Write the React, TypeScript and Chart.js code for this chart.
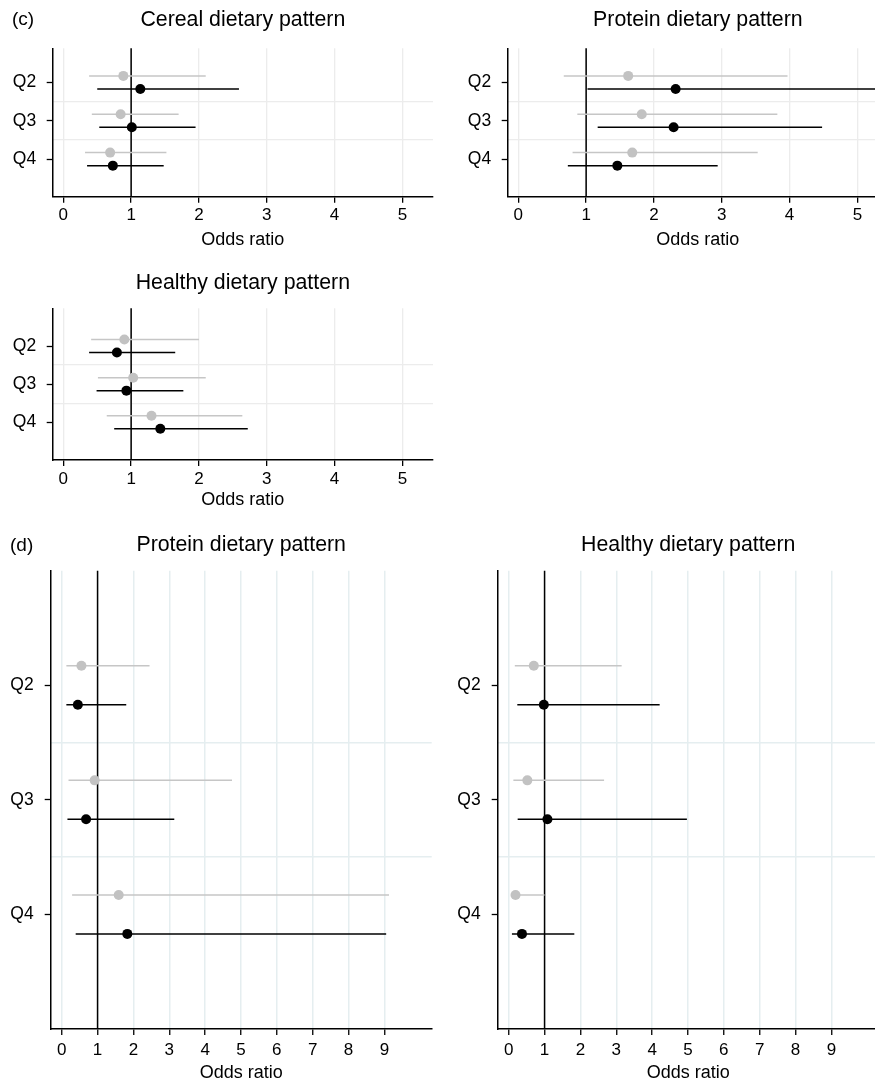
import React, { useEffect, useRef } from "react";
import { Chart, registerables } from "chart.js";

Chart.register(...registerables);
Chart.defaults.font.family = '"Liberation Sans", Arial, sans-serif';

// ---------- data ----------
const QUARTILES = ["Q2", "Q3", "Q4"];
const SEPARATORS = [1.5, 2.5];
const REF_OR = 1;
const X_TICKS_C = [0, 1, 2, 3, 4, 5];
const X_TICKS_D = [0, 1, 2, 3, 4, 5, 6, 7, 8, 9];

// (c) Cereal dietary pattern
const CEREAL_GRAY_OR = [0.885, 0.845, 0.69];
const CEREAL_GRAY_LO = [0.38, 0.42, 0.32];
const CEREAL_GRAY_HI = [2.1, 1.7, 1.52];
const CEREAL_BLACK_OR = [1.135, 1.01, 0.73];
const CEREAL_BLACK_LO = [0.5, 0.53, 0.35];
const CEREAL_BLACK_HI = [2.59, 1.95, 1.48];

// (c) Protein dietary pattern
const PROTEIN_C_GRAY_OR = [1.62, 1.82, 1.68];
const PROTEIN_C_GRAY_LO = [0.67, 0.87, 0.8];
const PROTEIN_C_GRAY_HI = [3.97, 3.82, 3.53];
const PROTEIN_C_BLACK_OR = [2.32, 2.29, 1.46];
const PROTEIN_C_BLACK_LO = [1.02, 1.17, 0.73];
const PROTEIN_C_BLACK_HI = [5.6, 4.48, 2.94];

// (c) Healthy dietary pattern
const HEALTHY_C_GRAY_OR = [0.9, 1.03, 1.3];
const HEALTHY_C_GRAY_LO = [0.41, 0.51, 0.64];
const HEALTHY_C_GRAY_HI = [2.0, 2.1, 2.64];
const HEALTHY_C_BLACK_OR = [0.79, 0.93, 1.43];
const HEALTHY_C_BLACK_LO = [0.38, 0.49, 0.75];
const HEALTHY_C_BLACK_HI = [1.65, 1.77, 2.72];

// (d) Protein dietary pattern
const PROTEIN_D_GRAY_OR = [0.55, 0.92, 1.59];
const PROTEIN_D_GRAY_LO = [0.13, 0.19, 0.29];
const PROTEIN_D_GRAY_HI = [2.45, 4.75, 9.13];
const PROTEIN_D_BLACK_OR = [0.45, 0.68, 1.83];
const PROTEIN_D_BLACK_LO = [0.13, 0.16, 0.39];
const PROTEIN_D_BLACK_HI = [1.8, 3.14, 9.05];

// (d) Healthy dietary pattern
const HEALTHY_D_GRAY_OR = [0.7, 0.52, 0.19];
const HEALTHY_D_GRAY_LO = [0.17, 0.13, 0.07];
const HEALTHY_D_GRAY_HI = [3.15, 2.66, 1.0];
const HEALTHY_D_BLACK_OR = [0.98, 1.08, 0.37];
const HEALTHY_D_BLACK_LO = [0.24, 0.25, 0.09];
const HEALTHY_D_BLACK_HI = [4.21, 4.97, 1.83];

// ---------- styling / layout ----------
const GRAY_POINT = "#c2c2c2";
const GRAY_LINE = "#c6c6c6";
const BLACK = "#000000";
const GRID_C = "#ececec";
const GRID_D = "#e5eef0";
const FONT = '"Liberation Sans", Arial, sans-serif';
const ROW_OFFSET = 0.17;

type Series = { or: number[]; lo: number[]; hi: number[] };
type Panel = {
  left: number; top: number; width: number; height: number;
  area: { left: number; top: number; right: number; bottom: number };
  xMin: number; xMax: number; yMin: number; yMax: number;
  xTicks: number[];
  title: string; titleY: number;
  letter?: string; letterX?: number;
  axisGap: number; xTickPad: number; yTickPad: number;
  grid: string; gridWidth: number;
  gray: Series; black: Series;
};

const PANELS: Panel[] = [
  {
    left: 0, top: 0, width: 440, height: 262,
    area: { left: 52.7, top: 48.3, right: 433, bottom: 196.7 },
    xMin: -0.157, xMax: 5.452, yMin: 0.11, yMax: 3.98, xTicks: X_TICKS_C,
    title: "Cereal dietary pattern", titleY: 19.7, letter: "(c)", letterX: 12,
    axisGap: 43, xTickPad: 2, yTickPad: 10.5, grid: GRID_C, gridWidth: 1.3,
    gray: { or: CEREAL_GRAY_OR, lo: CEREAL_GRAY_LO, hi: CEREAL_GRAY_HI },
    black: { or: CEREAL_BLACK_OR, lo: CEREAL_BLACK_LO, hi: CEREAL_BLACK_HI },
  },
  {
    left: 455, top: 0, width: 440, height: 262,
    area: { left: 52.7, top: 48.3, right: 433, bottom: 196.7 },
    xMin: -0.157, xMax: 5.452, yMin: 0.11, yMax: 3.98, xTicks: X_TICKS_C,
    title: "Protein dietary pattern", titleY: 19.7,
    axisGap: 43, xTickPad: 2, yTickPad: 10.5, grid: GRID_C, gridWidth: 1.3,
    gray: { or: PROTEIN_C_GRAY_OR, lo: PROTEIN_C_GRAY_LO, hi: PROTEIN_C_GRAY_HI },
    black: { or: PROTEIN_C_BLACK_OR, lo: PROTEIN_C_BLACK_LO, hi: PROTEIN_C_BLACK_HI },
  },
  {
    left: 0, top: 260, width: 440, height: 262,
    area: { left: 52.7, top: 48.3, right: 433, bottom: 200 },
    xMin: -0.157, xMax: 5.452, yMin: 0.01, yMax: 3.99, xTicks: X_TICKS_C,
    title: "Healthy dietary pattern", titleY: 22.7,
    axisGap: 40, xTickPad: 3, yTickPad: 10.5, grid: GRID_C, gridWidth: 1.3,
    gray: { or: HEALTHY_C_GRAY_OR, lo: HEALTHY_C_GRAY_LO, hi: HEALTHY_C_GRAY_HI },
    black: { or: HEALTHY_C_BLACK_OR, lo: HEALTHY_C_BLACK_LO, hi: HEALTHY_C_BLACK_HI },
  },
  {
    left: 0, top: 520, width: 440, height: 565,
    area: { left: 50.7, top: 50.7, right: 431.7, bottom: 509 },
    xMin: -0.307, xMax: 10.32, yMin: 0, yMax: 4, xTicks: X_TICKS_D,
    title: "Protein dietary pattern", titleY: 25.3, letter: "(d)", letterX: 10,
    axisGap: 44, xTickPad: 5, yTickPad: 11, grid: GRID_D, gridWidth: 1.5,
    gray: { or: PROTEIN_D_GRAY_OR, lo: PROTEIN_D_GRAY_LO, hi: PROTEIN_D_GRAY_HI },
    black: { or: PROTEIN_D_BLACK_OR, lo: PROTEIN_D_BLACK_LO, hi: PROTEIN_D_BLACK_HI },
  },
  {
    left: 447, top: 520, width: 440, height: 565,
    area: { left: 50.7, top: 50.7, right: 431.7, bottom: 509 },
    xMin: -0.307, xMax: 10.32, yMin: 0, yMax: 4, xTicks: X_TICKS_D,
    title: "Healthy dietary pattern", titleY: 25.3,
    axisGap: 44, xTickPad: 5, yTickPad: 11, grid: GRID_D, gridWidth: 1.5,
    gray: { or: HEALTHY_D_GRAY_OR, lo: HEALTHY_D_GRAY_LO, hi: HEALTHY_D_GRAY_HI },
    black: { or: HEALTHY_D_BLACK_OR, lo: HEALTHY_D_BLACK_LO, hi: HEALTHY_D_BLACK_HI },
  },
];

function buildDatasets(p: Panel) {
  const ds: any[] = [];
  ds.push({
    type: "line",
    data: [{ x: REF_OR, y: p.yMin }, { x: REF_OR, y: p.yMax }],
    borderColor: BLACK, borderWidth: 1.5, pointRadius: 0, order: 10,
    yAxisID: "y", clip: false,
  });
  const groups: [Series, number, string, string][] = [
    [p.gray, -ROW_OFFSET, GRAY_LINE, GRAY_POINT],
    [p.black, ROW_OFFSET, BLACK, BLACK],
  ];
  groups.forEach(([s, off, lineColor, pointColor]) => {
    s.or.forEach((_, i) => {
      const y = i + 1 + off;
      ds.push({
        type: "line",
        data: [{ x: s.lo[i], y }, { x: s.hi[i], y }],
        borderColor: lineColor, borderWidth: 1.5, pointRadius: 0, order: 5,
        yAxisID: "y",
      });
    });
    ds.push({
      type: "scatter",
      data: s.or.map((v, i) => ({ x: v, y: i + 1 + off })),
      backgroundColor: pointColor, borderWidth: 0, pointRadius: 5,
      pointHoverRadius: 5, order: 1, yAxisID: "y",
    });
  });
  return ds;
}

function PanelChart({ p }: { p: Panel }) {
  const ref = useRef<HTMLCanvasElement | null>(null);
  useEffect(() => {
    if (!ref.current) return;
    const yW = p.area.left;
    const xH = p.height - p.area.bottom;
    const textPlugin = {
      id: "panelText",
      afterDraw(chart: any) {
        const ctx = chart.ctx;
        const ca = chart.chartArea;
        const cx = (ca.left + ca.right) / 2;
        ctx.save();
        ctx.fillStyle = "#000";
        ctx.textBaseline = "middle";
        ctx.textAlign = "center";
        ctx.font = `21.3px ${FONT}`;
        ctx.fillText(p.title, cx, p.titleY);
        ctx.font = `18px ${FONT}`;
        ctx.fillText("Odds ratio", cx, ca.bottom + p.axisGap);
        if (p.letter) {
          ctx.textAlign = "left";
          ctx.font = `19px ${FONT}`;
          ctx.fillText(p.letter, p.letterX, p.titleY);
        }
        ctx.restore();
      },
    };
    const chart = new Chart(ref.current, {
      type: "scatter",
      data: { datasets: buildDatasets(p) },
      options: {
        animation: false,
        responsive: false,
        maintainAspectRatio: false,
        events: [],
        layout: {
          padding: { left: 0, top: p.area.top, right: p.width - p.area.right, bottom: 0 },
        },
        plugins: { legend: { display: false }, tooltip: { enabled: false }, title: { display: false } },
        scales: {
          x: {
            type: "linear", position: "bottom", min: p.xMin, max: p.xMax,
            afterBuildTicks: (s: any) => { s.ticks = p.xTicks.map((v) => ({ value: v })); },
            afterFit: (s: any) => { s.height = xH; },
            grid: { color: p.grid, lineWidth: p.gridWidth, tickColor: BLACK, tickLength: 6, tickWidth: 1.3 },
            border: { color: BLACK, width: 1.5 },
            ticks: { color: "#000", font: { size: 17 }, padding: p.xTickPad, maxRotation: 0, autoSkip: false, callback: (v: any) => String(v) },
          },
          y: {
            type: "linear", position: "left", reverse: true, min: p.yMin, max: p.yMax,
            afterBuildTicks: (s: any) => { s.ticks = QUARTILES.map((_, i) => ({ value: i + 1 })); },
            afterFit: (s: any) => { s.width = yW; },
            grid: { drawOnChartArea: false, tickColor: BLACK, tickLength: 6, tickWidth: 1.3 },
            border: { color: BLACK, width: 1.5 },
            ticks: { color: "#000", font: { size: 17.5 }, padding: p.yTickPad, autoSkip: false, callback: (v: any) => QUARTILES[Math.round(v) - 1] },
          },
          ySep: {
            type: "linear", position: "left", reverse: true, min: p.yMin, max: p.yMax,
            afterBuildTicks: (s: any) => { s.ticks = SEPARATORS.map((v) => ({ value: v })); },
            afterFit: (s: any) => { s.width = 0; },
            grid: { color: p.grid, lineWidth: p.gridWidth, drawTicks: false },
            border: { display: false },
            ticks: { display: false },
          },
        },
      } as any,
      plugins: [textPlugin],
    });
    return () => chart.destroy();
  }, [p]);
  return (
    <canvas
      ref={ref}
      width={p.width}
      height={p.height}
      style={{ position: "absolute", left: p.left, top: p.top, width: p.width, height: p.height }}
    />
  );
}

export default function App() {
  return (
    <div style={{ position: "absolute", left: 0, top: 0, width: 875, height: 1085, overflow: "hidden", background: "#fff" }}>
      {PANELS.map((p, i) => (
        <PanelChart key={i} p={p} />
      ))}
    </div>
  );
}
